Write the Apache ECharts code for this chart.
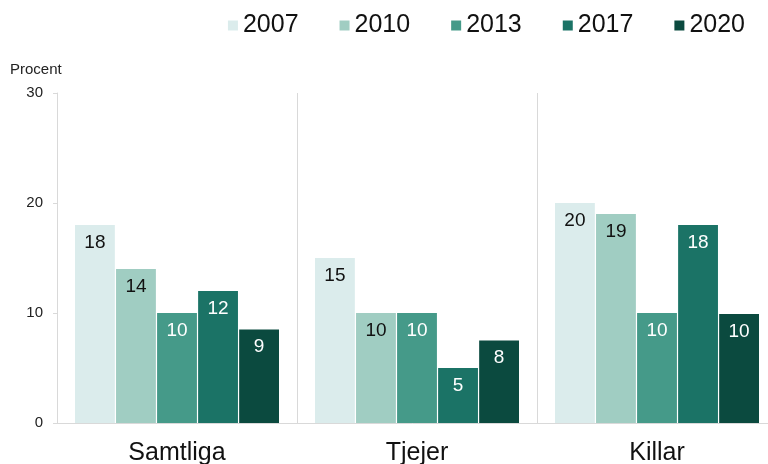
<!DOCTYPE html>
<html><head><meta charset="utf-8">
<script src="https://cdn.jsdelivr.net/npm/echarts@6/dist/echarts.min.js"></script>
<style>html,body{margin:0;padding:0;background:#fff}#c{width:768px;height:464px}</style>
</head><body><div id="c"></div>
<script>
const categories = ['Samtliga', 'Tjejer', 'Killar'];
const years = ['2007', '2010', '2013', '2017', '2020'];
const v2007 = [18, 15, 20];
const v2010 = [14, 10, 19];
const v2013 = [10, 10, 10];
const v2017 = [12, 5, 18];
const v2020 = [8.5, 7.5, 9.9];
const yTicks = [0, 10, 20, 30];

const colors = ['#dbecec', '#a0cdc2', '#459a89', '#1b7366', '#0b4a3f'];
const labelColors = ['#111', '#111', '#fff', '#fff', '#fff'];
const values = [v2007, v2010, v2013, v2017, v2020];
const narrow = '"Liberation Sans Narrow", "Arial Narrow", "Liberation Sans", sans-serif';
const body = '"Liberation Sans", Arial, sans-serif';

const chart = echarts.init(document.getElementById('c'), null, {renderer: 'canvas'});
chart.setOption({
  animation: false,
  color: colors,
  title: {text: 'Procent', left: 5, top: 57, textStyle: {fontFamily: body, fontSize: 15, fontWeight: 'normal', color: '#222'}},
  legend: {
    right: 18, top: 8, itemWidth: 10, itemHeight: 10, itemGap: 41,
    icon: 'rect',
    textStyle: {fontFamily: narrow, fontSize: 25, color: '#111'},
    data: years
  },
  grid: {left: 57, top: 93, bottom: 41, width: 720, containLabel: false, outerBoundsMode: 'none'},
  xAxis: {
    type: 'category', data: categories,
    axisLine: {lineStyle: {color: '#d9d9d9', width: 1}},
    axisTick: {show: false},
    axisLabel: {fontFamily: narrow, fontSize: 25, color: '#111', margin: 18},
    splitLine: {show: true, lineStyle: {color: '#d9d9d9', width: 1}}
  },
  yAxis: {
    type: 'value', min: yTicks[0], max: yTicks[yTicks.length - 1], interval: 10,
    axisLine: {show: true, lineStyle: {color: '#d9d9d9'}},
    axisTick: {show: true, length: 4, lineStyle: {color: '#d9d9d9'}},
    axisLabel: {fontFamily: body, fontSize: 15, color: '#222', margin: 14},
    splitLine: {show: false}
  },
  series: years.map((y, i) => ({
    name: y, type: 'bar', data: values[i],
    barGap: '3%', barCategoryGap: '15%',
    itemStyle: {color: colors[i]},
    label: {
      show: true, position: 'insideTop', distance: 8,
      fontFamily: body, fontSize: 19, color: labelColors[i],
      formatter: p => Math.round(p.value)
    }
  }))
});
</script></body></html>
